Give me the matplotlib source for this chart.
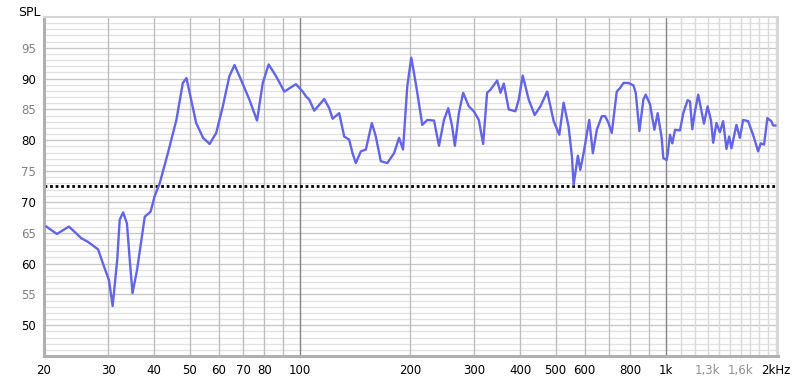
import numpy as np
import matplotlib
matplotlib.use("Agg")
from matplotlib import pyplot as plt
from matplotlib.ticker import FixedLocator, NullFormatter

# frequency response (Hz, dB SPL)
freq = [20.3, 21.7, 23.4, 25.3, 26.4, 28.1, 29.3, 30.1, 30.8, 31.7, 32.2, 32.9, 33.7, 34.3, 34.9,
        35.9, 36.9, 37.7, 39.1, 40.1, 41.4, 43.6, 46.0, 47.9, 49.0, 52.1, 54.4, 56.7, 59.1, 61.6,
        64.2, 66.3, 69.1, 72.8, 76.4, 79.2, 82.2, 86.1, 90.7, 97.6, 101.8, 104, 106.1, 109.5, 116.6,
        120.3, 122.9, 128.1, 132.2, 136.4, 139.3, 142.2, 146.8, 151.5, 157.3, 161.3, 166.4, 173.4,
        180.9, 186.7, 191.4, 196.6, 201.6, 207.3, 216.1, 223, 232.6, 240, 247.6, 254.4, 260.8,
        265.2, 272, 279.4, 289.6, 298.8, 308.3, 316.8, 324.8, 331.8, 346, 353.4, 360.8, 372.2,
        388.2, 396.4, 406.4, 422, 438.2, 454.2, 474, 493.8, 511.6, 525.6, 542.4, 553.8, 559.8,
        575, 583.6, 596, 617.6, 631.8, 647.8, 668.4, 682.8, 697, 711.6, 734.4, 750.2, 766, 790.4,
        815.6, 827.4, 846.8, 868.2, 881, 905.6, 930.4, 949.8, 974, 984.2, 1004.8, 1011, 1026.6,
        1041.4, 1059.4, 1093, 1116, 1146.6, 1164, 1181, 1201, 1226, 1252, 1271, 1300, 1328, 1347,
        1375, 1405, 1434, 1464, 1489, 1511, 1559, 1593, 1626, 1678, 1731, 1787, 1817, 1855, 1894,
        1942, 1963, 1991]
spl = [66.0, 64.8, 66.0, 64.1, 63.5, 62.3, 59.2, 57.3, 53.1, 60.6, 67.1, 68.3, 66.5, 60.6, 55.2,
       58.9, 63.8, 67.6, 68.4, 70.9, 73.0, 77.9, 83.3, 89.3, 90.1, 82.8, 80.4, 79.4, 81.2, 85.5,
       90.4, 92.2, 89.8, 86.6, 83.2, 89.3, 92.3, 90.4, 87.9, 89.1, 87.9, 87.1, 86.6, 84.8, 86.7,
       85.2, 83.5, 84.4, 80.6, 80.1, 77.9, 76.3, 78.2, 78.5, 82.8, 80.6, 76.6, 76.3,
       77.9, 80.4, 78.5, 88.8, 93.4, 89.3, 82.5, 83.3, 83.2, 79.1, 83.3, 85.2, 82.2,
       79.1, 84.4, 87.7, 85.5, 84.7, 83.3, 79.4, 87.7, 88.2, 89.7, 87.7, 89.2, 85.0,
       84.7, 86.6, 90.5, 86.6, 84.1, 85.5, 87.9, 83.1, 80.9, 86.1, 82.2, 77.4, 72.8,
       77.5, 75.2, 77.9, 83.3, 77.9, 81.7, 83.9, 83.9, 82.8, 81.2, 87.9, 88.5, 89.3, 89.3,
       88.9, 87.7, 81.5, 86.6, 87.4, 85.8, 81.7, 84.4, 80.4, 77.1, 76.8, 77.6, 80.9,
       79.5, 81.7, 81.6, 84.4, 86.5, 86.3, 81.8, 84.7, 87.4, 84.7, 82.7, 85.5, 83.3, 79.6,
       82.8, 81.3, 83.1, 78.6, 80.6, 78.7, 82.5, 80.4, 83.3, 83.1, 80.9, 78.2, 79.5, 79.3, 83.6,
       83.1, 82.4, 82.4]

ref_level = 72.6
x_ticks = [20, 30, 40, 50, 60, 70, 80, 100, 200, 300, 400, 500, 600, 800, 1000, 1300, 1600, 2000]
x_labels = ["20", "30", "40", "50", "60", "70", "80", "100", "200", "300", "400", "500", "600",
            "800", "1k", "1,3k", "1,6k", "2kHz"]
grey_x_labels = ["1,3k", "1,6k"]
y_ticks = [50, 55, 60, 65, 70, 75, 80, 85, 90, 95]

fig = plt.figure(figsize=(8, 3.81), dpi=100)
ax = fig.add_axes([0.055, 0.0656, 0.9175, 0.8898])
ax.set_xscale("log")
ax.set_xlim(20, 2025)
ax.set_ylim(45, 100)

# grid
for v in range(46, 100):
    c = "#c8c8c8" if v % 5 == 0 else "#e2e2e2"
    ax.axhline(v, color=c, lw=1, zorder=0)
mid_lines = [30, 40, 50, 60, 70, 80, 90, 200, 300, 400, 500, 600, 700, 800, 900]
for v in mid_lines:
    ax.axvline(v, color="#bebebe", lw=1, zorder=0)
for v in range(1100, 2001, 100):
    ax.axvline(v, color="#dadada", lw=1, zorder=0)
ax.axvline(100, color="#848484", lw=1, zorder=0)
ax.axvline(1000, color="#848484", lw=1, zorder=0)

ax.axhline(ref_level, color="black", lw=2, linestyle=(0, (1, 1)), zorder=2)
ax.plot(freq, spl, color="#6464e6", lw=1.7, zorder=3, solid_joinstyle="round")

ax.xaxis.set_major_locator(FixedLocator(x_ticks))
ax.xaxis.set_minor_formatter(NullFormatter())
ax.xaxis.set_minor_locator(FixedLocator([]))
ax.set_xticklabels(x_labels)
ax.set_yticks(y_ticks)
ax.set_yticklabels([str(v) for v in y_ticks])
ax.tick_params(axis="both", length=0, labelsize=8.5, pad=6)
for lab in ax.get_xticklabels():
    lab.set_color("#909090" if lab.get_text() in grey_x_labels else "black")
for lab, v in zip(ax.get_yticklabels(), y_ticks):
    lab.set_color("black" if v % 10 == 0 else "#808080")

ax.spines["left"].set_color("#b0b0b0")
ax.spines["left"].set_linewidth(2.2)
ax.spines["bottom"].set_color("#b0b0b0")
ax.spines["bottom"].set_linewidth(2.2)
ax.spines["top"].set_color("#d6d6d6")
ax.spines["top"].set_linewidth(1.5)
ax.spines["right"].set_color("#d6d6d6")
ax.spines["right"].set_linewidth(1.5)

fig.text(0.0225, 0.985, "SPL", fontsize=9, va="top", ha="left")

fig.savefig("out.png", dpi=100)
